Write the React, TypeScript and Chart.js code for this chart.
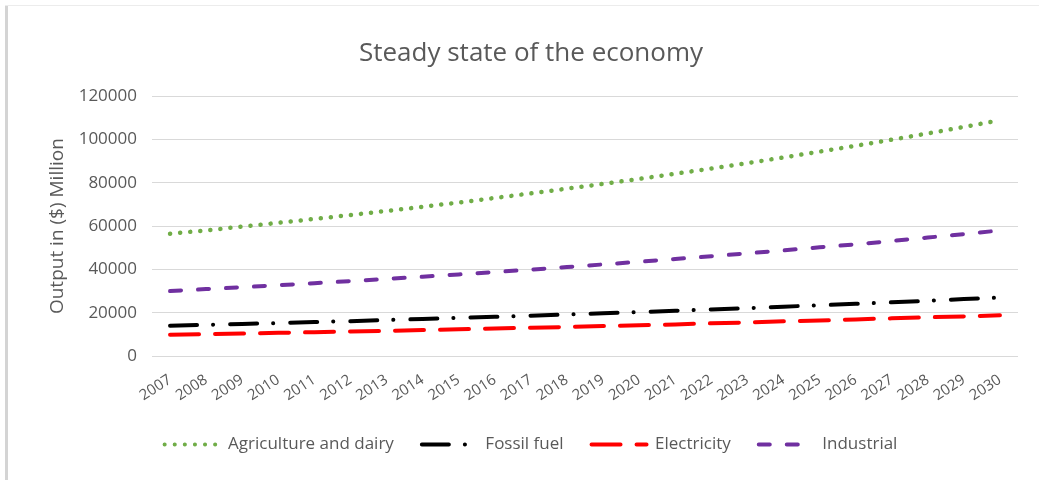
import React, { useEffect, useRef } from "react";
import { Chart, registerables } from "chart.js";

Chart.register(...registerables);

const years = [
  "2007", "2008", "2009", "2010", "2011", "2012", "2013", "2014", "2015", "2016", "2017", "2018",
  "2019", "2020", "2021", "2022", "2023", "2024", "2025", "2026", "2027", "2028", "2029", "2030",
];

const agriculture = [
  56500, 58000, 59800, 61500, 63300, 65100, 67000, 68900, 70900, 73000, 75100, 77300,
  79500, 81800, 84200, 86600, 89100, 91700, 94400, 97100, 99900, 102800, 105800, 108900,
];

const fossilFuel = [
  14000, 14400, 14800, 15200, 15700, 16100, 16600, 17100, 17600, 18100, 18600, 19200,
  19700, 20300, 20900, 21500, 22100, 22800, 23400, 24100, 24800, 25500, 26300, 27000,
];

const electricity = [
  9800, 10100, 10400, 10700, 11000, 11300, 11600, 12000, 12300, 12700, 13100, 13400,
  13800, 14200, 14600, 15100, 15500, 16000, 16400, 16900, 17400, 17900, 18300, 18800,
];

const industrial = [
  30000, 30900, 31800, 32700, 33600, 34600, 35600, 36600, 37700, 38800, 39900, 41100,
  42300, 43500, 44800, 46100, 47400, 48800, 50200, 51600, 53100, 54700, 56300, 58000,
];

const yTicks = [0, 20000, 40000, 60000, 80000, 100000, 120000];

const FONT = "'Open Sans', sans-serif";
const TEXT = "#595959";

export default function App() {
  const ref = useRef<HTMLCanvasElement | null>(null);

  useEffect(() => {
    if (!ref.current) return;
    const chart = new Chart(ref.current, {
      type: "line",
      data: {
        labels: years,
        datasets: [
          {
            label: "Agriculture and dairy",
            data: agriculture,
            borderColor: "#70ad47",
            backgroundColor: "#70ad47",
            borderWidth: 4.5,
            borderDash: [0.1, 10],
            borderCapStyle: "round",
            pointRadius: 0,
            tension: 0,
          },
          {
            label: "Fossil fuel",
            data: fossilFuel,
            borderColor: "#000000",
            backgroundColor: "#000000",
            borderWidth: 4,
            borderDash: [27, 16, 0.1, 17],
            borderCapStyle: "round",
            pointRadius: 0,
            tension: 0,
          },
          {
            label: "Electricity",
            data: electricity,
            borderColor: "#ff0000",
            backgroundColor: "#ff0000",
            borderWidth: 4,
            borderDash: [29, 16],
            borderCapStyle: "round",
            pointRadius: 0,
            tension: 0,
          },
          {
            label: "Industrial",
            data: industrial,
            borderColor: "#7030a0",
            backgroundColor: "#7030a0",
            borderWidth: 4,
            borderDash: [11, 17],
            borderCapStyle: "round",
            pointRadius: 0,
            tension: 0,
          },
        ],
      },
      options: {
        animation: false,
        responsive: false,
        maintainAspectRatio: false,
        layout: { padding: { left: 44, right: 21, top: 0, bottom: 17 } },
        plugins: {
          title: {
            display: true,
            text: "Steady state of the economy",
            color: TEXT,
            font: { family: FONT, size: 26, weight: "normal" },
            padding: { top: 38, bottom: 27 },
          },
          legend: {
            position: "bottom",
            labels: {
              color: TEXT,
              font: { family: FONT, size: 17 },
              usePointStyle: true,
              pointStyle: "line",
              pointStyleWidth: 55,
              boxWidth: 55,
              boxHeight: 17,
              padding: 28,
              generateLabels: (c: any) => {
                const items = Chart.defaults.plugins.legend.labels.generateLabels(c);
                return items.map((it: any) => {
                  const ds: any = c.data.datasets[it.datasetIndex];
                  return {
                    ...it,
                    lineDash: ds.borderDash,
                    lineCap: "round",
                    lineWidth: 4,
                    strokeStyle: ds.borderColor,
                    fillStyle: ds.borderColor,
                    fontColor: TEXT,
                  };
                });
              },
            },
          },
          tooltip: { enabled: false },
        },
        scales: {
          x: {
            offset: true,
            grid: { display: false, drawTicks: false },
            border: { display: false },
            afterFit: (scale: any) => {
              scale.height = 52;
            },
            ticks: {
              color: TEXT,
              font: { family: FONT, size: 15 },
              minRotation: 33,
              maxRotation: 33,
              autoSkip: false,
              padding: 15,
            },
          },
          y: {
            min: 0,
            max: 120000,
            afterBuildTicks: (scale: any) => {
              scale.ticks = yTicks.map((v) => ({ value: v }));
            },
            afterFit: (scale: any) => {
              scale.width = 108;
            },
            grid: { color: "#d9d9d9", lineWidth: 1, drawTicks: false },
            border: { display: false },
            ticks: {
              color: TEXT,
              font: { family: FONT, size: 17 },
              padding: 15,
              callback: (v: any) => String(v),
            },
            title: {
              display: true,
              text: "Output in ($) Million",
              color: TEXT,
              font: { family: FONT, size: 19 },
              padding: { top: 2, bottom: 0 },
            },
          },
        },
      },
    });
    return () => chart.destroy();
  }, []);

  return (
    <div style={{ position: "fixed", left: 0, top: 0, width: 1039, height: 480, background: "#fff" }}>
      <div style={{ position: "absolute", left: 5, top: 5, width: 3, height: 475, background: "#d4d4d4" }} />
      <div style={{ position: "absolute", left: 5, top: 5, width: 1034, height: 1, background: "#ececec" }} />
      <canvas ref={ref} width={1039} height={480} style={{ position: "absolute", left: 0, top: 0 }} />
    </div>
  );
}
